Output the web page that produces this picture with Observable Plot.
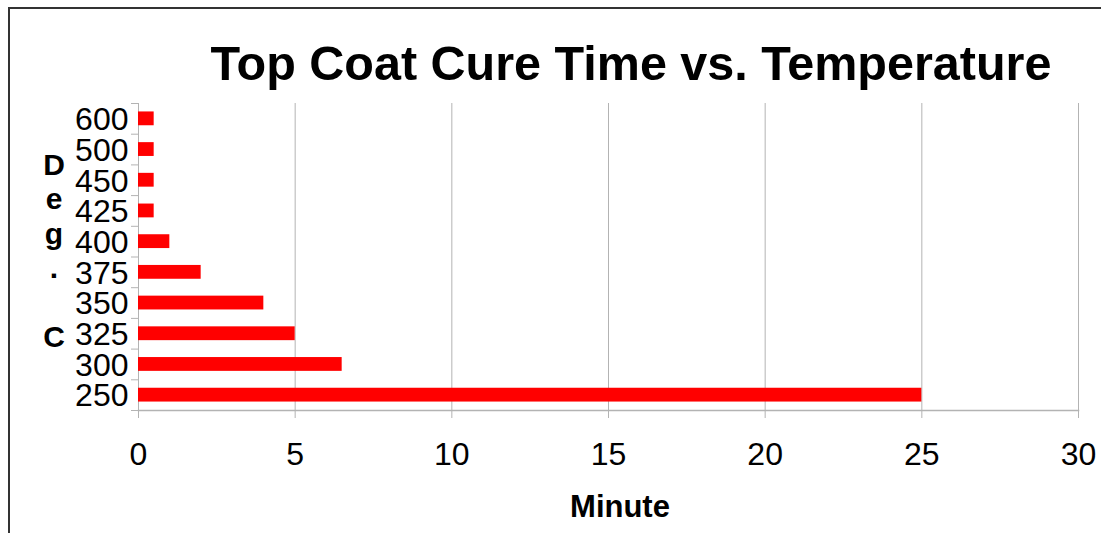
<!DOCTYPE html>
<html>
<head>
<meta charset="utf-8">
<script src="https://cdn.jsdelivr.net/npm/d3@7"></script>
<script src="https://cdn.jsdelivr.net/npm/@observablehq/plot@0.6"></script>
<style>
  html, body { margin: 0; padding: 0; background: #fff; }
  #chart { width: 1101px; height: 533px; overflow: hidden; }
  svg { display: block; font-family: "Liberation Sans", Arial, sans-serif; }
</style>
</head>
<body>
<div id="chart"></div>
<script>
const temperatures = ["250", "300", "325", "350", "375", "400", "425", "450", "500", "600"];
const minutes = [25, 6.5, 5, 4, 2, 1, 0.5, 0.5, 0.5, 0.5];
const xTicks = [0, 5, 10, 15, 20, 25, 30];
const titleText = "Top Coat Cure Time vs. Temperature";
const xLabel = "Minute";
const yLabel = "Deg. C";

const data = temperatures.map((t, i) => ({temp: t, min: minutes[i]}));
const yDomain = temperatures.slice().reverse();

const W = 1101, H = 533;
const mTop = 103, mBottom = 123, mLeft = 138, mRight = 23;
const step = (H - mTop - mBottom) / yDomain.length;
const gray = "#b3b3b3";

const chart = Plot.plot({
  width: W,
  height: H,
  marginTop: mTop,
  marginBottom: mBottom,
  marginLeft: mLeft,
  marginRight: mRight,
  style: {fontFamily: '"Liberation Sans", Arial, sans-serif', background: "#fff", color: "#000"},
  x: {domain: [0, 30], ticks: xTicks},
  y: {domain: yDomain, paddingInner: 0.55, paddingOuter: 0.275, round: false},
  marks: [
    Plot.gridX(xTicks, {stroke: gray, strokeOpacity: 1, strokeWidth: 1}),
    Plot.frame({anchor: "bottom", stroke: gray, strokeWidth: 1.5}),
    Plot.barX(data, {x: "min", y: "temp", fill: "#ff0000"}),
    Plot.axisX(xTicks, {tickSize: 8, tickPadding: 24, fontSize: 32, stroke: gray, fill: "#000", label: null}),
    Plot.axisY({tickSize: 0, tickPadding: 10, fontSize: 32, dy: 1, fill: "#000", label: null}),
    Plot.axisY({tickSize: 7, tickFormat: null, stroke: gray, dy: step / 2, label: null}),
    Plot.axisY([yDomain[0]], {tickSize: 7, tickFormat: null, stroke: gray, dy: -step / 2, label: null})
  ]
});

document.getElementById("chart").appendChild(chart);

const svg = d3.select(chart);

// outer frame (top and left edges visible)
svg.append("path")
  .attr("d", `M9,${H}V8H${W}`)
  .attr("fill", "none")
  .attr("stroke", "#333")
  .attr("stroke-width", 2);

// title
svg.append("text")
  .attr("x", 631)
  .attr("y", 80)
  .attr("text-anchor", "middle")
  .attr("font-size", 48.5)
  .attr("font-weight", "bold")
  .attr("fill", "#000")
  .text(titleText);

// x label
svg.append("text")
  .attr("x", 620)
  .attr("y", 517)
  .attr("text-anchor", "middle")
  .attr("font-size", 31)
  .attr("font-weight", "bold")
  .attr("fill", "#000")
  .text(xLabel);

// y label stacked vertically
const yl = svg.append("text")
  .attr("text-anchor", "middle")
  .attr("font-size", 30)
  .attr("font-weight", "bold")
  .attr("fill", "#000");
Array.from(yLabel).forEach((ch, i) => {
  yl.append("tspan")
    .attr("x", 54)
    .attr("y", 175 + i * 34.4)
    .text(ch === " " ? "\u00a0" : ch);
});
</script>
</body>
</html>
